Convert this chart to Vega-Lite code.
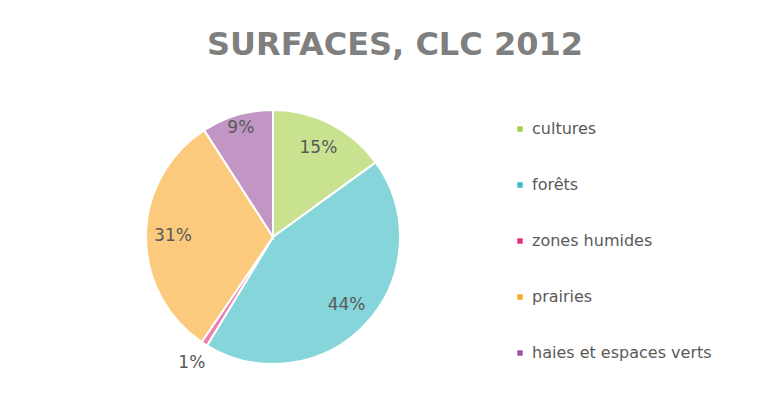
{
  "$schema": "https://vega.github.io/schema/vega-lite/v6.json",
  "autosize": "none",
  "width": 528,
  "height": 314,
  "padding": {"left": 9, "top": 80, "right": 226, "bottom": 9},
  "background": "#ffffff",
  "config": {"view": {"stroke": null}},
  "title": {
    "text": "SURFACES, CLC 2012",
    "anchor": "middle",
    "frame": "group",
    "dx": 122,
    "offset": 18,
    "font": "DejaVu Sans",
    "fontSize": 32,
    "fontWeight": "bold",
    "color": "#7f7f7f"
  },
  "data": {
    "values": [
      {"cat": "cultures", "share": 0.15, "order": 1},
      {"cat": "forêts", "share": 0.437, "order": 2},
      {"cat": "zones humides", "share": 0.008, "order": 3},
      {"cat": "prairies", "share": 0.314, "order": 4},
      {"cat": "haies et espaces verts", "share": 0.091, "order": 5}
    ]
  },
  "encoding": {
    "theta": {"field": "share", "type": "quantitative", "stack": true},
    "order": {"field": "order", "type": "quantitative"}
  },
  "layer": [
    {
      "mark": {"type": "arc", "radius": 127, "stroke": "#ffffff", "strokeWidth": 2, "fillOpacity": 0.62},
      "encoding": {
        "color": {
          "field": "cat",
          "type": "nominal",
          "scale": {
            "domain": ["cultures", "forêts", "zones humides", "prairies", "haies et espaces verts"],
            "range": ["#a6d04c", "#3bbcc4", "#e6307f", "#f8a92c", "#9b55a0"]
          },
          "legend": {
            "orient": "none",
            "legendX": 503,
            "legendY": 41,
            "title": null,
            "symbolType": "square",
            "symbolSize": 30,
            "symbolStrokeWidth": 0,
            "labelFont": "DejaVu Sans",
            "labelFontSize": 16,
            "labelColor": "#595959",
            "labelOffset": 4,
            "labelLimit": 400,
            "rowPadding": 40,
            "padding": 0
          }
        }
      }
    },
    {
      "mark": {"type": "text", "radius": 100, "font": "DejaVu Sans", "fontSize": 17, "color": "#595959"},
      "encoding": {
        "text": {"field": "share", "format": ".0%", "condition": {"test": "datum.share < 0.1", "value": ""}}
      }
    },
    {
      "mark": {"type": "text", "radius": 114, "font": "DejaVu Sans", "fontSize": 17, "color": "#595959"},
      "encoding": {
        "text": {"field": "share", "format": ".0%", "condition": {"test": "datum.share < 0.02 || datum.share >= 0.1", "value": ""}}
      }
    },
    {
      "mark": {"type": "text", "radius": 150, "font": "DejaVu Sans", "fontSize": 17, "color": "#595959"},
      "encoding": {
        "text": {"field": "share", "format": ".0%", "condition": {"test": "datum.share >= 0.02", "value": ""}}
      }
    }
  ]
}
